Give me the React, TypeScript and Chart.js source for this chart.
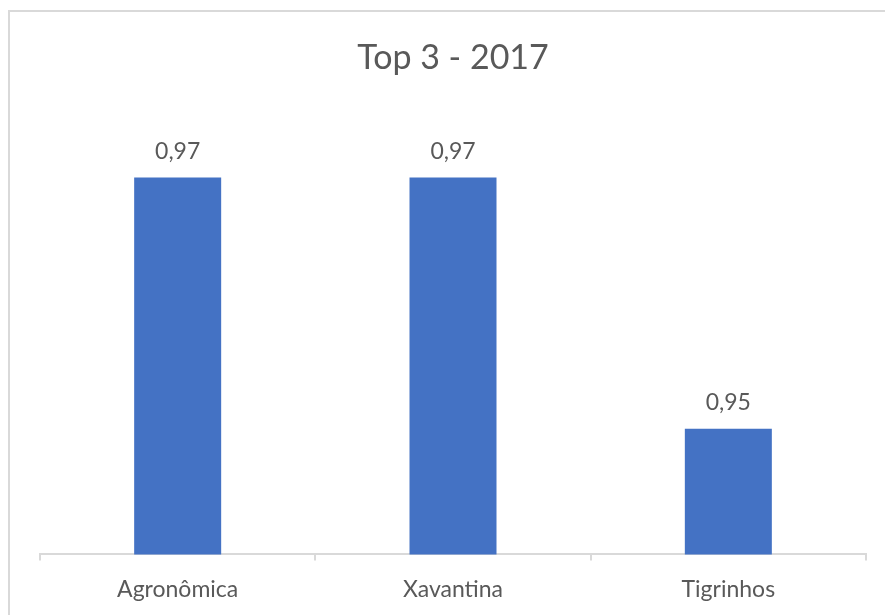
import React, { useEffect, useRef } from "react";
import { Chart, registerables } from "chart.js";

Chart.register(...registerables);

// Chart data
const categories: string[] = ["Agronômica", "Xavantina", "Tigrinhos"];
const values: number[] = [0.97, 0.97, 0.95];
const chartTitle = "Top 3 - 2017";

const BAR_COLOR = "#4472C4";
const TEXT_COLOR = "#595959";
const LINE_COLOR = "#D9D9D9";
const FONT = "Lato, 'Open Sans', sans-serif";

const formatValue = (v: number) => v.toFixed(2).replace(".", ",");

// Draws the value above each bar
const valueLabels = {
  id: "valueLabels",
  afterDatasetsDraw(chart: any) {
    const { ctx } = chart;
    const meta = chart.getDatasetMeta(0);
    ctx.save();
    ctx.fillStyle = TEXT_COLOR;
    ctx.font = `23px ${FONT}`;
    ctx.textAlign = "center";
    ctx.textBaseline = "middle";
    meta.data.forEach((bar: any, i: number) => {
      const v = chart.data.datasets[0].data[i] as number;
      ctx.fillText(formatValue(v), bar.x, bar.y - 26);
    });
    ctx.restore();
  },
};

export default function App() {
  const canvasRef = useRef<HTMLCanvasElement | null>(null);

  useEffect(() => {
    if (!canvasRef.current) return;
    const chart = new Chart(canvasRef.current, {
      type: "bar",
      data: {
        labels: categories,
        datasets: [
          {
            data: values,
            backgroundColor: BAR_COLOR,
            borderWidth: 0,
            categoryPercentage: 1,
            barPercentage: 0.316,
          },
        ],
      },
      options: {
        animation: false,
        responsive: false,
        layout: { padding: { left: 40, right: 19, top: 0, bottom: 22 } },
        plugins: {
          legend: { display: false },
          tooltip: { enabled: false },
          title: {
            display: true,
            text: chartTitle,
            color: TEXT_COLOR,
            font: { family: FONT, size: 34, weight: "normal", lineHeight: 1.2 },
            padding: { top: 38, bottom: 36 },
          },
        },
        scales: {
          x: {
            offset: true,
            grid: {
              offset: true,
              drawOnChartArea: false,
              drawTicks: true,
              tickLength: 6,
              color: LINE_COLOR,
              lineWidth: 2,
            },
            border: { display: true, color: LINE_COLOR, width: 2 },
            ticks: {
              color: TEXT_COLOR,
              font: { family: FONT, size: 23 },
              padding: 15,
              maxRotation: 0,
            },
          },
          y: {
            display: false,
            min: 0.94,
            max: 0.975,
          },
        },
      },
      plugins: [valueLabels],
    });
    return () => chart.destroy();
  }, []);

  return (
    <div
      style={{
        position: "absolute",
        left: 0,
        top: 0,
        width: 885,
        height: 615,
        overflow: "hidden",
        background: "#ffffff",
      }}
    >
      <div
        style={{
          position: "absolute",
          left: 8,
          top: 10,
          width: 900,
          height: 660,
          borderTop: `2px solid ${LINE_COLOR}`,
          borderLeft: `2px solid ${LINE_COLOR}`,
        }}
      />
      <canvas
        ref={canvasRef}
        width={885}
        height={640}
        style={{ position: "absolute", left: 0, top: 0 }}
      />
    </div>
  );
}
